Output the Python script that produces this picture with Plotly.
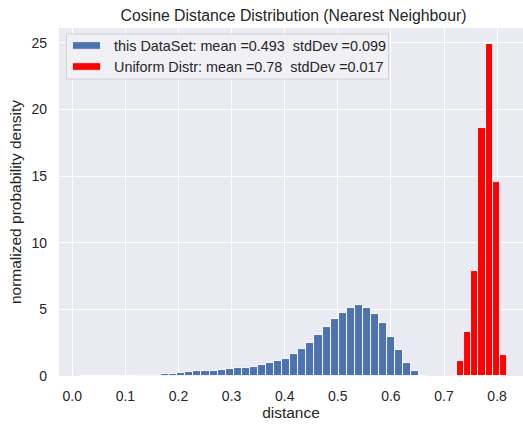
import plotly.graph_objects as go

# ---- data -------------------------------------------------------------
# normalized histogram of nearest-neighbour cosine distances (this data set)
blue_bin_start = 0.0152
blue_bin_width = 0.0152
blue_density = [
    0.0, 0.0, 0.0, 0.0, 0.0, 0.01, 0.02, 0.05, 0.07, 0.10,
    0.12, 0.15, 0.20, 0.27, 0.35, 0.35, 0.40, 0.47, 0.54, 0.60,
    0.62, 0.70, 0.85, 0.97, 1.13, 1.28, 1.67, 2.03, 2.46, 3.08,
    3.67, 4.27, 4.75, 5.10, 5.32, 5.13, 4.68, 3.95, 2.93, 1.92,
    0.97, 0.35, 0.03,
]
blue_mean, blue_std = 0.493, 0.099

# normalized histogram for uniformly distributed vectors
red_bin_start = 0.7107
red_bin_width = 0.01349
red_density = [0.1, 1.1, 3.28, 7.9, 18.6, 24.9, 14.55, 1.6]
red_mean, red_std = 0.78, 0.017

x_ticks = [0.0, 0.1, 0.2, 0.3, 0.4, 0.5, 0.6, 0.7, 0.8]
y_ticks = [0, 5, 10, 15, 20, 25]

labels = [
    f"this DataSet: mean ={blue_mean}\u00a0 stdDev ={blue_std}",
    f"Uniform Distr: mean ={red_mean}\u00a0 stdDev ={red_std}",
]
colors = ["#4C72B0", "#FF0000"]

# ---- layout geometry (pixels) ------------------------------------------
W, H = 523, 425
L, R, T, B = 59, 0, 28, 49
PW, PH = W - L - R, H - T - B
FONT = "Liberation Sans, Arial, sans-serif"
TXT = "#262626"


def px_x(p):
    return (p - L) / PW


def px_y(p):
    return (H - B - p) / PH


def centers(start, width, n):
    return [start + (i + 0.5) * width for i in range(n)]


fig = go.Figure()
fig.add_trace(go.Bar(
    x=centers(blue_bin_start, blue_bin_width, len(blue_density)),
    y=blue_density,
    width=blue_bin_width,
    marker=dict(color=colors[0], line=dict(color="white", width=0.9)),
    showlegend=False,
))
fig.add_trace(go.Bar(
    x=centers(red_bin_start, red_bin_width, len(red_density)),
    y=red_density,
    width=red_bin_width,
    marker=dict(color=colors[1], line=dict(color="white", width=0.9)),
    showlegend=False,
))

# legend box drawn in the upper-left corner of the axes
shapes = [dict(
    type="rect", xref="paper", yref="paper",
    x0=px_x(66.5), x1=px_x(388.5), y0=px_y(79), y1=px_y(34),
    fillcolor="rgba(240,240,245,0.92)", line=dict(color="#D0D0D6", width=1),
    layer="above",
)]
annotations = []
row_y = [45.5, 66.5]
for lab, col, ry in zip(labels, colors, row_y):
    shapes.append(dict(
        type="rect", xref="paper", yref="paper",
        x0=px_x(72.5), x1=px_x(100.5), y0=px_y(ry + 3.8), y1=px_y(ry - 3.8),
        fillcolor=col, line=dict(color="white", width=0.8), layer="above",
    ))
    annotations.append(dict(
        xref="paper", yref="paper", x=px_x(112), y=px_y(ry),
        xanchor="left", yanchor="middle", showarrow=False,
        text=lab, font=dict(family=FONT, size=14.4, color=TXT),
    ))

fig.update_layout(
    width=W, height=H,
    margin=dict(l=L, r=R, t=T, b=B, pad=0),
    paper_bgcolor="white",
    plot_bgcolor="#EAEAF2",
    barmode="overlay",
    bargap=0,
    font=dict(family=FONT, color=TXT),
    title=dict(
        text="Cosine Distance Distribution (Nearest Neighbour)",
        xref="container", x=293.5 / W, xanchor="center",
        yref="container", y=1 - 15 / H, yanchor="middle",
        font=dict(family=FONT, size=15.8, color=TXT),
    ),
    shapes=shapes,
    annotations=annotations,
)

fig.update_xaxes(
    range=[(L - 72.3) / 531, (W - 72.3) / 531],
    tickvals=x_ticks, tickformat=".1f",
    showgrid=True, gridcolor="white", gridwidth=1.3,
    zeroline=False, showline=False, ticks="",
    ticklabelstandoff=10,
    tickfont=dict(family=FONT, size=14, color=TXT),
    title=dict(text="distance", standoff=4,
               font=dict(family=FONT, size=15.5, color=TXT)),
)
fig.update_yaxes(
    range=[0, 26.1],
    tickvals=y_ticks,
    showgrid=True, gridcolor="white", gridwidth=1.3,
    zeroline=False, showline=False, ticks="",
    ticklabelstandoff=11,
    tickfont=dict(family=FONT, size=14, color=TXT),
    title=dict(text="normalized probability density", standoff=5,
               font=dict(family=FONT, size=15.5, color=TXT)),
)

fig.write_html("out.html")
